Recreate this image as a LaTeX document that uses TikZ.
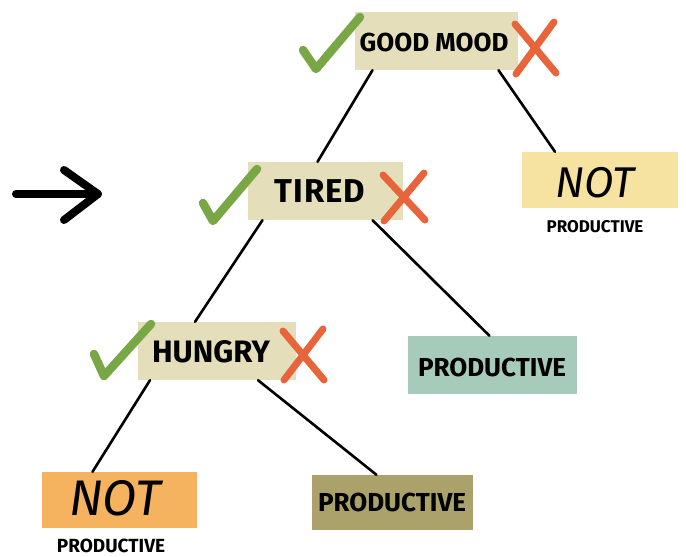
\documentclass[tikz,border=0pt]{standalone}
\usepackage{fontspec}
\setmainfont{Fira Sans}
\usetikzlibrary{arrows.meta}
\definecolor{beige}{HTML}{E4DFBA}
\definecolor{paleyellow}{HTML}{F6E3A2}
\definecolor{teal}{HTML}{A7CBBB}
\definecolor{orangebox}{HTML}{F5B25F}
\definecolor{olive}{HTML}{AAA16B}
\definecolor{checkgreen}{HTML}{79A746}
\definecolor{crossred}{HTML}{E8643A}
\newcommand{\fsz}[1]{\fontsize{#1}{#1}\selectfont}
\tikzset{
  box/.style={rectangle, inner sep=0pt},
  lbl/.style={inner sep=0pt, font=\bfseries},
  edge/.style={line width=2.6pt, line cap=round},
  check/.style={draw=checkgreen, line width=8.5pt, line cap=round, line join=round},
  cross/.style={draw=crossred, line width=7pt, line cap=round},
  small/.style={font=\fsz{17}\bfseries, inner sep=0pt},
  big/.style={font=\fsz{43}\itshape, inner sep=0pt}
}
\begin{document}
\begin{tikzpicture}[x=1pt,y=-1pt]
\useasboundingbox (0,0) rectangle (686,557);
% boxes
\node[box, fill=beige, minimum width=163pt, minimum height=58pt] (good) at (436.5,41) {};
\node[lbl, font=\fsz{26}\bfseries] (goodt) at (434,42) {GOOD MOOD};
\node[box, fill=beige, minimum width=155pt, minimum height=58pt] (tired) at (325.5,191) {};
\node[lbl, font=\fsz{33}\bfseries] (tiredt) at (320,191) {T\kern1ptI\kern1ptR\kern1ptE\kern1ptD};
\node[box, fill=beige, minimum width=158pt, minimum height=58pt] (hungry) at (217,351) {};
\node[lbl, font=\fsz{31}\bfseries] (hungryt) at (211,352) {HUNGRY};
\node[box, fill=paleyellow, minimum width=156pt, minimum height=56pt] (not1) at (600,180) {};
\node[big] (not1t) at (595,183) {NOT};
\node[small] (not1s) at (595,227) {PRODUCTIVE};
\node[box, fill=teal, minimum width=169pt, minimum height=58pt] (prod1) at (492.5,365) {};
\node[lbl, font=\fsz{26}\bfseries] (prod1t) at (492,367) {PRODUCTIVE};
\node[box, fill=orangebox, minimum width=155pt, minimum height=56pt] (not2) at (119.5,500) {};
\node[big, font=\fsz{50}\itshape] (not2t) at (115,498) {NOT};
\node[small, font=\fsz{19}\bfseries] (not2s) at (111,546) {PRODUCTIVE};
\node[box, fill=olive, minimum width=161pt, minimum height=55pt] (prod2) at (392.5,502.5) {};
\node[lbl, font=\fsz{26}\bfseries] (prod2t) at (392,502) {PRODUCTIVE};
% connectors
\draw[edge] ([xshift=-64pt]good.south) -- ([xshift=-8pt]tired.north);
\draw[edge] ([xshift=62pt]good.south) -- ([xshift=-45pt]not1.north);
\draw[edge] ([xshift=-63pt]tired.south) -- ([xshift=-22pt]hungry.north);
\draw[edge] ([xshift=47pt]tired.south) -- ([xshift=-3pt]prod1.north);
\draw[edge] ([xshift=-67pt]hungry.south) -- ([xshift=-27pt]not2.north);
\draw[edge] ([xshift=41pt]hungry.south) -- ([xshift=-16pt]prod2.north);
% checks
\draw[check] (303,50) -- (316,69) -- (360,17);
\draw[check] (203,203) -- (213,221) -- (257,169);
\draw[check] (94,354) -- (104,376) -- (151,324);
% crosses
\draw[cross] (515,24) -- (556,73);
\draw[cross] (554,22) -- (516,74);
\draw[cross] (383,175) -- (425,220);
\draw[cross] (424,173) -- (384,221);
\draw[cross] (283,331) -- (324,380);
\draw[cross] (323,329) -- (284,380);
% arrow
\coordinate (as) at (16,194);
\coordinate (ae) at (98,194);
\draw[line width=8pt, line cap=round] (as) -- (ae);
\draw[line width=8pt, line cap=round, line join=round] (64,170) -- (98,194) -- (64,220);
\end{tikzpicture}
\end{document}
